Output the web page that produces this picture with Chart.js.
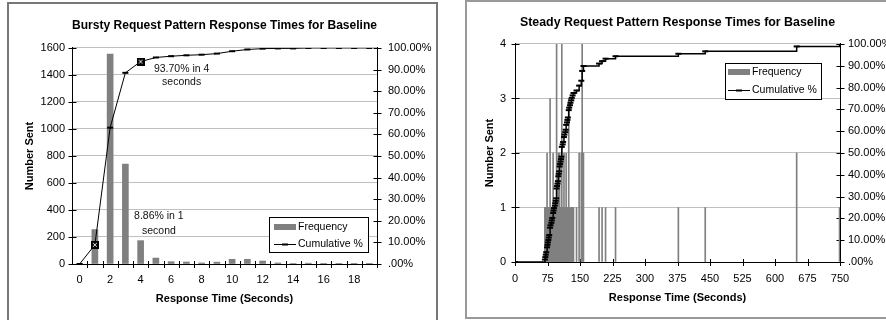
<!DOCTYPE html>
<html>
<head>
<meta charset="utf-8">
<script src="https://cdn.jsdelivr.net/npm/chart.js@4.4.1/dist/chart.umd.min.js"></script>
<style>
  html, body { margin: 0; padding: 0; background: #fff; overflow: hidden; }
  body { width: 886px; height: 320px; position: relative; }
  .box { position: absolute; border: 2px solid #777; background: #fff; }
  #leftBox { left: 7px; top: 2px; width: 427px; height: 326px; }
  #rightBox { left: 465px; top: 0px; width: 440px; height: 315px; border-color: #999; }
  canvas { display: block; }
</style>
</head>
<body>
<div class="box" id="leftBox"><canvas id="bursty" width="427" height="326"></canvas></div>
<div class="box" id="rightBox"><canvas id="steady" width="440" height="315"></canvas></div>
<script>
// bursty chart: one bin per second
const burstyCats = [0, 1, 2, 3, 4, 5, 6, 7, 8, 9, 10, 11, 12, 13, 14, 15, 16, 17, 18, 19];
const burstyFreq = [0, 255, 1555, 740, 173, 44, 17, 15, 8, 14, 35, 35, 22, 8, 3, 6, 1, 1, 1, 1];
const burstyCum = [0, 8.86, 63.1, 88.5, 93.70, 95.6, 96.2, 96.6, 96.9, 97.4, 98.5, 99.3, 99.7, 99.8, 99.8, 100, 100, 100, 100, 100];
const burstyTickLabels = [0, 2, 4, 6, 8, 10, 12, 14, 16, 18];
const burstyMarked = [1, 4];

// steady chart: only the seconds that had requests
const steadyTimes = [0, 69, 70, 71, 72, 74, 75, 76, 77, 78, 79, 81, 82, 84, 85, 86, 88, 89, 90,
  92, 93, 94, 95, 96, 97, 98, 99, 100, 101, 102, 103, 104, 105, 106, 107, 108, 110, 111, 113, 114,
  116, 117, 118, 120, 121, 122, 124, 125, 127, 128, 130, 131, 133, 135, 142, 148, 153, 155, 158,
  194, 201, 209, 232, 377, 439, 650, 749];
const steadyFreq = [0, 1, 1, 1, 1, 2, 1, 1, 1, 1, 1, 3, 1, 1, 1, 1, 2, 1, 1,
  1, 1, 1, 1, 4, 1, 1, 1, 2, 1, 1, 2, 1, 1, 1, 1, 4, 1, 1, 2, 1,
  1, 1, 2, 1, 1, 1, 3, 1, 1, 1, 1, 1, 1, 1, 1, 2, 2, 4, 2,
  1, 1, 1, 1, 1, 1, 2, 1];
const steadyCum = [0, 1.12, 2.25, 3.37, 4.49, 6.74, 7.87, 8.99, 10.11, 11.24, 12.36, 15.73, 16.85, 17.98, 19.10, 20.22, 22.47, 23.60, 24.72,
  25.84, 26.97, 28.09, 29.21, 33.71, 34.83, 35.96, 37.08, 39.33, 40.45, 41.57, 43.82, 44.94, 46.07, 47.19, 48.31, 52.81, 53.93, 55.06, 57.30, 58.43,
  59.55, 60.67, 62.92, 64.04, 65.17, 66.29, 69.66, 70.79, 71.91, 73.03, 74.16, 75.28, 76.40, 77.53, 78.65, 80.90, 83.15, 87.64, 89.89,
  91.01, 92.13, 93.26, 94.38, 95.51, 96.63, 98.88, 100.00];

const FONT = '"Liberation Sans", Arial, sans-serif';
Chart.defaults.font.family = FONT;
Chart.defaults.font.size = 11;
Chart.defaults.color = '#000';

const pctLabel = v => v === 0 ? '.00%' : v.toFixed(2) + '%';
const plainLabel = v => String(v);

function boxMark() {
  const c = document.createElement('canvas');
  c.width = 8; c.height = 8;
  const g = c.getContext('2d');
  g.fillStyle = '#000';
  g.fillRect(0, 0, 8, 8);
  g.strokeStyle = '#ddd';
  g.lineWidth = 1;
  g.beginPath();
  g.moveTo(2, 2); g.lineTo(6, 6);
  g.moveTo(6, 2); g.lineTo(2, 6);
  g.stroke();
  return c;
}
const markImg = boxMark();

// tick marks crossing the axis lines, like the spreadsheet ones
const crossTicks = {
  id: 'crossTicks',
  beforeDatasetsDraw(chart, args, opts) {
    const ctx = chart.ctx;
    ctx.save();
    ctx.strokeStyle = '#000';
    ctx.lineWidth = 1;
    Object.keys(chart.scales).forEach(id => {
      const s = chart.scales[id];
      const vals = (opts.at && opts.at[id]) || s.ticks.map(t => t.value);
      vals.forEach(v => {
        const p = Math.round(s.getPixelForValue(v)) + 0.5;
        ctx.beginPath();
        if (s.isHorizontal()) {
          ctx.moveTo(p, s.top - 3); ctx.lineTo(p, s.top + 4);
        } else {
          const a = Math.round(s.position === 'right' ? s.left : s.right) + 0.5;
          ctx.moveTo(a - 4, p); ctx.lineTo(a + 4, p);
        }
        ctx.stroke();
      });
    });
    ctx.restore();
  }
};

const boxLegend = {
  id: 'boxLegend',
  afterDraw(chart, args, o) {
    const { ctx, chartArea: a } = chart;
    const x = Math.round(a.right - o.right - o.width);
    const y = Math.round(o.top != null ? a.top + o.top : a.bottom - o.bottom - o.height);
    ctx.save();
    ctx.fillStyle = '#fff';
    ctx.fillRect(x, y, o.width, o.height);
    ctx.strokeStyle = '#000';
    ctx.lineWidth = 1;
    ctx.strokeRect(x + 0.5, y + 0.5, o.width, o.height);
    ctx.fillStyle = '#808080';
    ctx.fillRect(x + o.swatchX, y + o.row1 - 3, 22, 6);
    ctx.strokeStyle = '#000';
    ctx.beginPath();
    ctx.moveTo(x + o.swatchX, y + o.row2 + 0.5);
    ctx.lineTo(x + o.swatchX + 22, y + o.row2 + 0.5);
    ctx.stroke();
    ctx.lineWidth = 2;
    ctx.beginPath();
    ctx.moveTo(x + o.swatchX + 8, y + o.row2 + 0.5);
    ctx.lineTo(x + o.swatchX + 14, y + o.row2 + 0.5);
    ctx.stroke();
    ctx.fillStyle = '#000';
    ctx.font = '10.5px ' + FONT;
    ctx.textAlign = 'left';
    ctx.textBaseline = 'middle';
    ctx.fillText('Frequency', x + o.swatchX + 24, y + o.row1);
    ctx.fillText('Cumulative %', x + o.swatchX + 24, y + o.row2);
    ctx.restore();
  }
};

const notes = {
  id: 'notes',
  afterDatasetsDraw(chart, args, o) {
    if (!o.items) return;
    const ctx = chart.ctx;
    ctx.save();
    ctx.fillStyle = '#111';
    ctx.font = '10.5px ' + FONT;
    ctx.textAlign = 'center';
    ctx.textBaseline = 'middle';
    o.items.forEach(n => {
      const px = chart.scales.x.getPixelForValue(burstyCats[n.at]);
      const py = chart.scales.y1.getPixelForValue(burstyCum[n.at]);
      n.lines.forEach((t, i) => ctx.fillText(t, px + n.dx, py + n.dy + i * n.gap));
    });
    ctx.restore();
  }
};

const titleFont = { family: FONT, size: 12.4, weight: 'bold' };
const axisFont = { family: FONT, size: 11, weight: 'bold' };

new Chart(document.getElementById('bursty'), {
  type: 'bar',
  data: {
    datasets: [
      {
        type: 'line',
        label: 'Cumulative %',
        data: burstyCats.map((c, i) => ({ x: c, y: burstyCum[i] })),
        yAxisID: 'y1',
        borderColor: '#000',
        borderWidth: 1,
        pointStyle: burstyCats.map((c, i) => burstyMarked.includes(i) ? markImg : 'line'),
        pointRadius: 3,
        pointBorderWidth: 2,
        pointBorderColor: '#000',
        pointBackgroundColor: '#000',
        order: 1
      },
      {
        label: 'Frequency',
        data: burstyCats.map((c, i) => ({ x: c, y: burstyFreq[i] })),
        yAxisID: 'y',
        backgroundColor: '#808080',
        barThickness: 6,
        order: 2
      }
    ]
  },
  options: {
    responsive: false,
    animation: false,
    layout: { padding: 0 },
    plugins: {
      legend: { display: false },
      tooltip: { enabled: false },
      title: {
        display: true, fullSize: false,
        text: 'Bursty Request Pattern Response Times for Baseline',
        font: titleFont, color: '#000',
        padding: { top: 14.6, bottom: 14.5 }
      },
      crossTicks: { at: { x: burstyCats.map(c => c + 0.5) } },
      boxLegend: { width: 99, height: 35, right: 9, bottom: 12, swatchX: 5, row1: 10, row2: 27 },
      notes: {
        items: [
          { at: 4, lines: ['93.70% in 4', 'seconds'], dx: 41, dy: 8, gap: 13 },
          { at: 1, lines: ['8.86% in 1', 'second'], dx: 64, dy: -29, gap: 15 }
        ]
      }
    },
    scales: {
      x: {
        type: 'linear', min: -0.5, max: 19.5, offset: false,
        afterBuildTicks: s => { s.ticks = burstyTickLabels.map(v => ({ value: v })); },
        grid: { display: false, drawTicks: false },
        border: { color: '#000' },
        ticks: { padding: 9.4, maxRotation: 0, autoSkip: false, callback: plainLabel },
        title: { display: true, text: 'Response Time (Seconds)', font: axisFont, padding: { top: 2, bottom: 24.4 } },
        afterFit: s => { s.height = 66; }
      },
      y: {
        min: 0, max: 1600,
        ticks: { stepSize: 200, padding: 7, callback: plainLabel },
        grid: { color: '#c0c0c0', drawTicks: false },
        border: { color: '#000' },
        title: { display: true, text: 'Number Sent', font: axisFont, padding: { top: 14.4, bottom: 0 } },
        afterFit: s => { s.width = 63; }
      },
      y1: {
        position: 'right', min: 0, max: 100,
        ticks: { stepSize: 10, padding: 11, callback: pctLabel },
        grid: { display: false, drawTicks: false },
        border: { color: '#000' },
        afterFit: s => { s.width = 59; }
      }
    }
  },
  plugins: [crossTicks, boxLegend, notes]
});

new Chart(document.getElementById('steady'), {
  type: 'bar',
  data: {
    datasets: [
      {
        type: 'line',
        label: 'Cumulative %',
        data: steadyTimes.map((t, i) => ({ x: t, y: steadyCum[i] })),
        yAxisID: 'y1',
        stepped: 'before',
        borderColor: '#000',
        borderWidth: 1.5,
        pointStyle: 'line',
        pointRadius: 3,
        pointBorderWidth: 2,
        pointBorderColor: '#000',
        order: 1
      },
      {
        label: 'Frequency',
        data: steadyTimes.map((t, i) => ({ x: t, y: steadyFreq[i] })),
        yAxisID: 'y',
        backgroundColor: '#808080',
        barThickness: 1,
        order: 2
      }
    ]
  },
  options: {
    responsive: false,
    animation: false,
    layout: { padding: 0 },
    plugins: {
      legend: { display: false },
      tooltip: { enabled: false },
      title: {
        display: true, fullSize: false,
        text: 'Steady Request Pattern Response Times for Baseline',
        font: titleFont, color: '#000',
        padding: { top: 13.3, bottom: 13.8 }
      },
      crossTicks: {},
      boxLegend: { width: 96, height: 36, right: 19, top: 19, swatchX: 3, row1: 9, row2: 27 }
    },
    scales: {
      x: {
        type: 'linear', min: 0, max: 750, offset: false,
        ticks: { stepSize: 75, padding: 10.4, maxRotation: 0, autoSkip: false, callback: plainLabel },
        grid: { display: false, drawTicks: false },
        border: { color: '#000' },
        title: { display: true, text: 'Response Time (Seconds)', font: axisFont, padding: { top: 2, bottom: 12.4 } },
        afterFit: s => { s.height = 55; }
      },
      y: {
        min: 0, max: 4,
        ticks: { stepSize: 1, padding: 9 },
        grid: { color: '#c0c0c0', drawTicks: false },
        border: { color: '#000' },
        title: { display: true, text: 'Number Sent', font: axisFont, padding: { top: 16.4, bottom: 0 } },
        afterFit: s => { s.width = 48; }
      },
      y1: {
        position: 'right', min: 0, max: 100,
        ticks: { stepSize: 10, padding: 8, callback: pctLabel },
        grid: { display: false, drawTicks: false },
        border: { color: '#000' },
        afterFit: s => { s.width = 67; }
      }
    }
  },
  plugins: [crossTicks, boxLegend]
});
</script>
</body>
</html>
